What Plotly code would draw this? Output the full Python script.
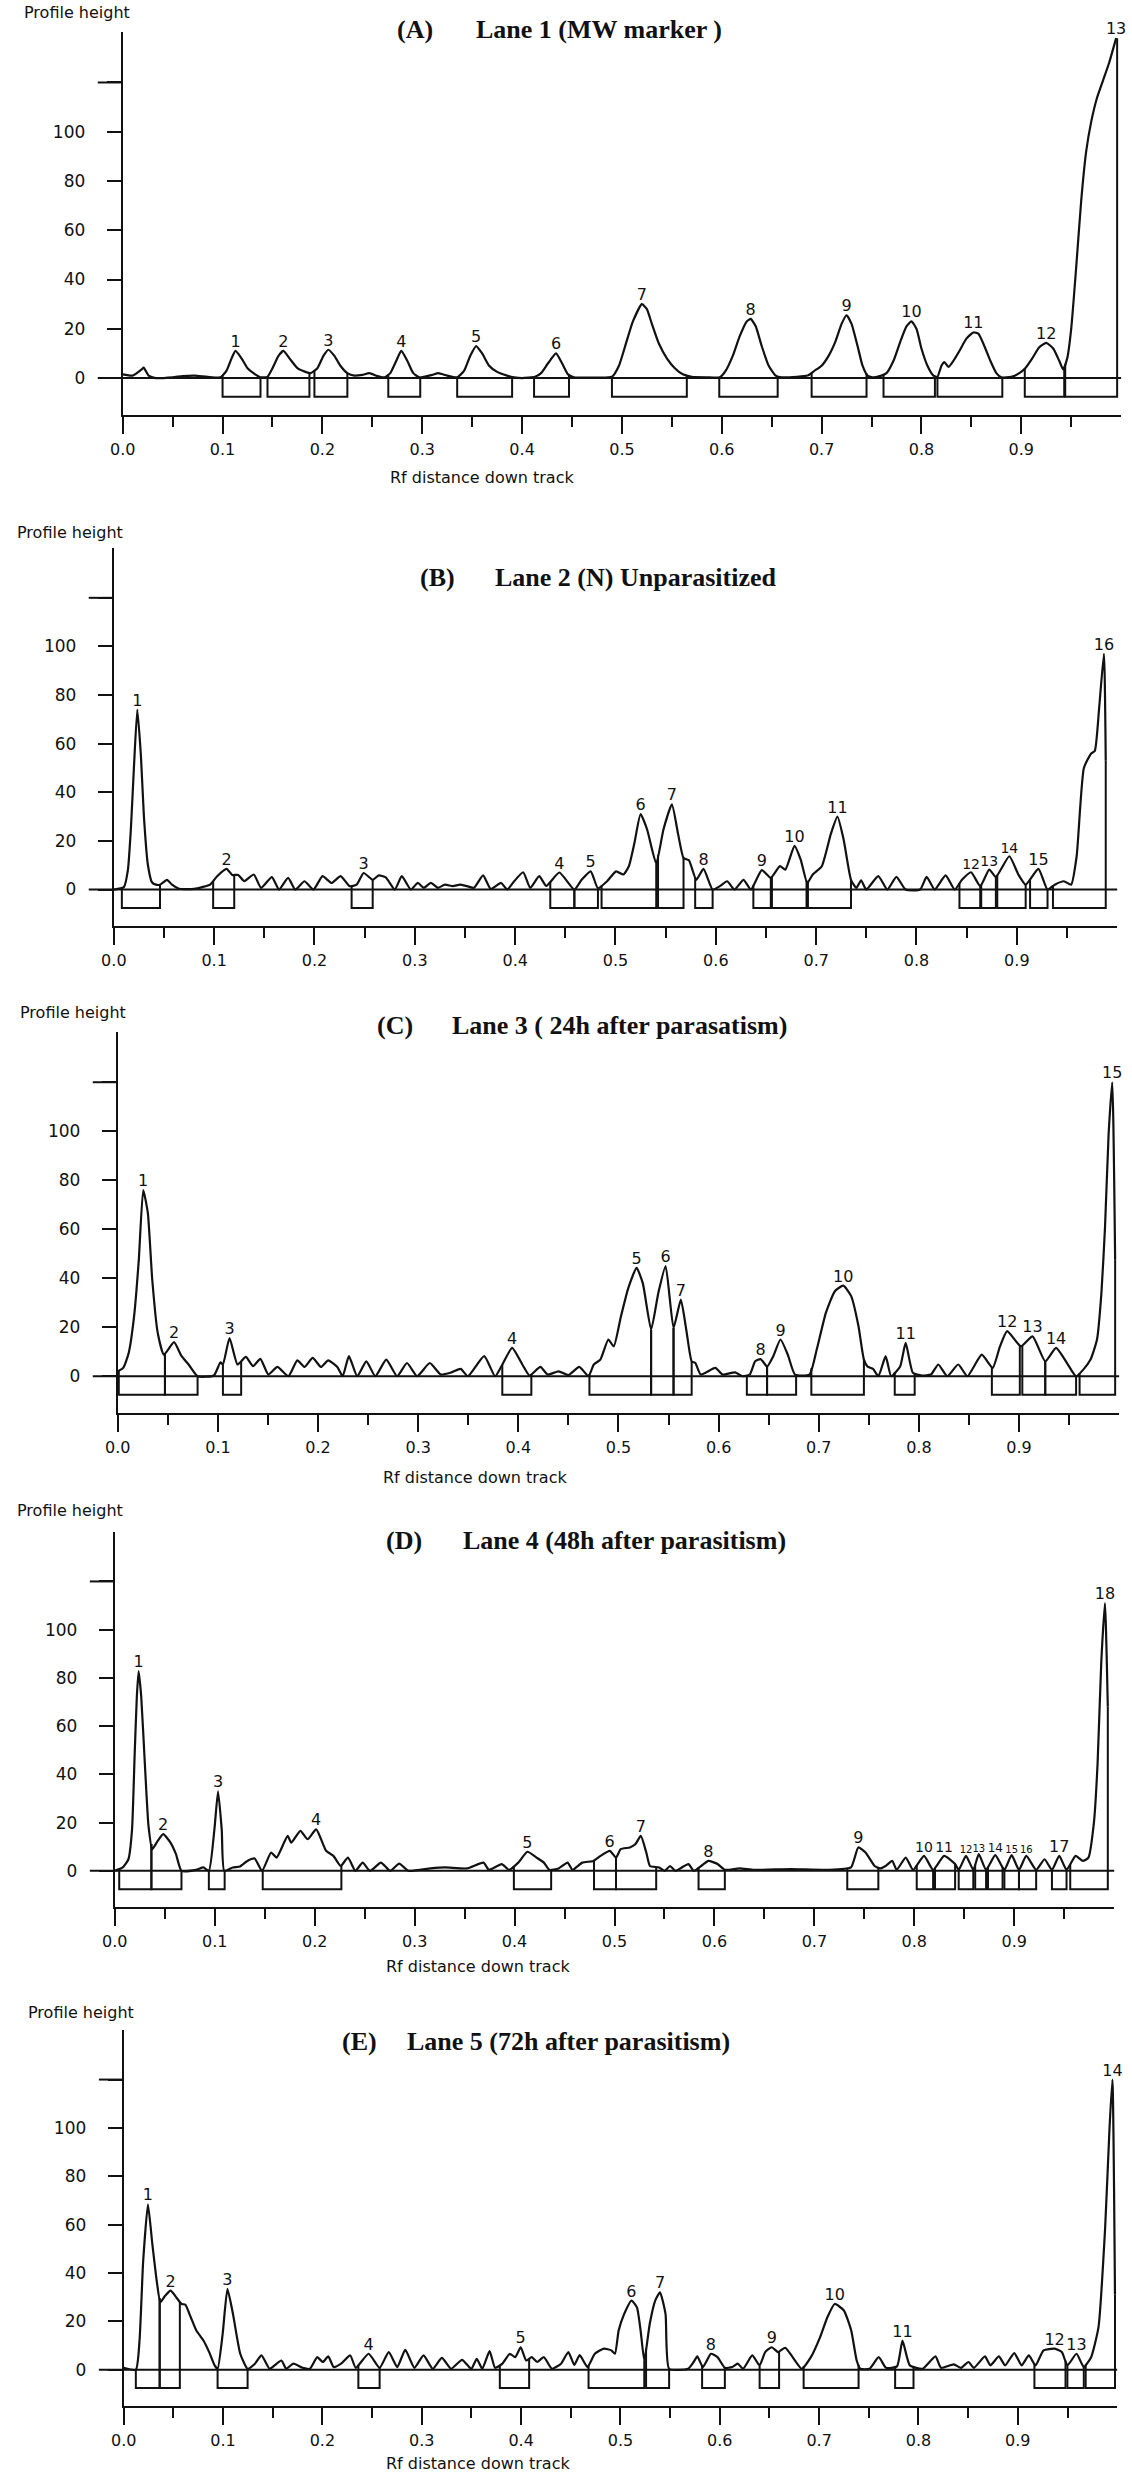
import numpy as np
import plotly.graph_objects as go

# ---------------------------------------------------------------- data
# Lane 1 (MW marker)
lane1_rf = [0.000, 0.010, 0.019, 0.021, 0.026, 0.033, 0.050, 0.060, 0.072, 0.085, 0.098,
            0.104, 0.109, 0.113, 0.119, 0.125, 0.131, 0.138,
            0.145, 0.150, 0.156, 0.161, 0.167, 0.175, 0.183, 0.188,
            0.195, 0.201, 0.206, 0.212, 0.218, 0.225, 0.232, 0.240, 0.247, 0.255, 0.262,
            0.268, 0.274, 0.279, 0.285, 0.291, 0.297,
            0.310, 0.316, 0.325, 0.335,
            0.342, 0.348, 0.354, 0.360, 0.367, 0.375, 0.385, 0.392,
            0.400, 0.413, 0.419, 0.426, 0.434, 0.440, 0.446, 0.452,
            0.470, 0.490, 0.497, 0.504, 0.511, 0.520, 0.525, 0.530, 0.537, 0.545, 0.553, 0.561, 0.570,
            0.585, 0.598, 0.604, 0.611, 0.618, 0.625, 0.629, 0.634, 0.640, 0.647, 0.654, 0.660,
            0.675, 0.686, 0.693, 0.700, 0.707, 0.714, 0.720, 0.725, 0.730, 0.736, 0.741, 0.746, 0.752,
            0.760, 0.765, 0.772, 0.779, 0.785, 0.790, 0.795, 0.800, 0.806, 0.812,
            0.816, 0.820, 0.823, 0.827, 0.832, 0.838, 0.845, 0.852, 0.857, 0.863, 0.869, 0.875, 0.880,
            0.890, 0.898, 0.904, 0.911, 0.918, 0.925, 0.932, 0.938, 0.942,
            0.946, 0.950, 0.955, 0.960, 0.965, 0.970, 0.976, 0.982, 0.988, 0.995]
lane1_height = [1.5, 1, 3.5, 4.2, 1, 0, 0.3, 0.8, 1, 0.5, 0.3,
                3, 8, 11, 8, 4, 2, 0.3,
                0.5, 4, 9, 11, 8, 4, 2.5, 2,
                4, 9, 11.5, 9, 5, 2, 1, 1.3, 2, 0.8, 0.3,
                2, 7, 11, 7, 2, 0.3,
                1.3, 2, 1, 0.3,
                3, 9, 13, 10, 5, 2.5, 1, 0.3,
                0, 0.5, 2, 6, 10, 6, 1.5, 0.3,
                0.2, 0.5, 5, 14, 23, 30, 28, 22, 14, 8, 4, 1.5, 0.5,
                0.3, 0.3, 3, 9, 17, 23, 24, 21, 13, 5, 1, 0.3,
                0.5, 1, 3, 5, 9, 15, 22, 25.5, 22, 13, 5, 1, 0.3,
                1, 2, 7, 15, 21, 23, 20, 12, 5, 1,
                0.5, 5, 6.5, 4.5, 7, 11, 16, 18.5, 18, 13, 7, 2, 0.3,
                0.5, 2, 4, 8, 12.5, 14.3, 12, 7, 3.5,
                8, 20, 45, 72, 92, 104, 114, 121, 128, 138]
lane1_band_start = [0.100, 0.145, 0.192, 0.266, 0.335, 0.412, 0.490, 0.5975, 0.690, 0.762, 0.816, 0.9035, 0.944]
lane1_band_end = [0.138, 0.187, 0.225, 0.298, 0.390, 0.447, 0.565, 0.656, 0.745, 0.8135, 0.881, 0.943, 0.996]

# Lane 2 (N) Unparasitized
lane2_rf = [0.000, 0.010, 0.014, 0.017, 0.020, 0.0234, 0.027, 0.030, 0.034, 0.038, 0.042, 0.046,
            0.053, 0.058, 0.065, 0.080, 0.088, 0.096, 0.103, 0.1124, 0.118, 0.124, 0.130,
            0.1395, 0.1467, 0.1575, 0.1647, 0.1737, 0.1809, 0.190, 0.199, 0.208, 0.217, 0.226,
            0.235, 0.242, 0.249, 0.258, 0.264, 0.271, 0.280, 0.287, 0.296, 0.303, 0.309, 0.316,
            0.323, 0.330, 0.338, 0.345, 0.352, 0.359, 0.368, 0.3755, 0.386, 0.392, 0.399, 0.408,
            0.415, 0.424, 0.431, 0.444, 0.459, 0.4662, 0.4753, 0.4825, 0.4916, 0.5006, 0.5079,
            0.5133, 0.5188, 0.5250, 0.5315, 0.5406, 0.5478, 0.5562, 0.5623, 0.5678, 0.5732,
            0.5805, 0.5877, 0.5968, 0.6040, 0.6113, 0.6186, 0.6276, 0.6349, 0.6458, 0.6548,
            0.6639, 0.6693, 0.6784, 0.6846, 0.6911, 0.6966, 0.7056, 0.7147, 0.7212, 0.7274,
            0.7347, 0.7401, 0.7448, 0.7499, 0.7619, 0.7709, 0.7800, 0.7891, 0.8036, 0.8101,
            0.8181, 0.8290, 0.8381, 0.8453, 0.8544, 0.8635, 0.8725, 0.8791, 0.8925, 0.9015,
            0.9088, 0.9215, 0.9306, 0.9378, 0.9469, 0.9541, 0.9596, 0.9668, 0.9741, 0.9777,
            0.9821, 0.9868, 0.9886]
lane2_height = [0, 1, 8, 25, 50, 74, 55, 30, 10, 3, 2, 2,
                4, 2, 0.3, 0.3, 1, 2, 5.5, 8.5, 6, 6, 3.4,
                6.2, 0.7, 5.1, 0, 4.8, 0, 3.4, 0, 5.5, 2.7, 5.5,
                1.4, 2, 6.8, 4, 5.8, 5, 0, 5.5, 0, 2.7, 0.7, 2.7,
                0.7, 2, 1.4, 2, 1.4, 0.7, 5.8, 0.3, 2.7, 0, 3.4, 7.1,
                0.7, 5.5, 1.5, 7, 0, 4, 7.5, 0.5, 3.4, 7.5, 6.2,
                9.6, 19, 31, 24.7, 10.7, 24.7, 35, 23, 13, 12,
                4, 8.5, 0, 1.4, 3.4, 0, 4, 0, 8, 4.8,
                9.6, 8.2, 18, 12.3, 2.7, 6.2, 9.6, 23, 30, 20.5,
                4, 0.7, 3.8, 0, 5.5, 0, 5.2, 0, 0, 5.2,
                0, 5.8, 0, 4, 7.1, 1.4, 8.2, 5.2, 13.7, 6.2,
                2, 8.5, 0, 2, 3.4, 2, 13.7, 50, 56, 57,
                75, 97, 53]
lane2_band_start = [0.008, 0.099, 0.237, 0.435, 0.459, 0.4861, 0.5424, 0.5794, 0.6374, 0.6559, 0.6918,
                    0.8428, 0.8645, 0.8805, 0.9132, 0.936]
lane2_band_end = [0.046, 0.120, 0.258, 0.459, 0.4825, 0.5406, 0.5678, 0.5968, 0.6548, 0.6904, 0.7347,
                  0.8635, 0.8791, 0.9088, 0.9306, 0.9886]

# Lane 3 (24h after parasitism)
lane3_rf = [0.000, 0.0054, 0.0109, 0.0163, 0.021, 0.0254, 0.030, 0.0344, 0.0399, 0.046, 0.0562,
            0.0634, 0.0707, 0.0797, 0.096, 0.1025, 0.105, 0.1116, 0.1196, 0.1279, 0.1351, 0.1424,
            0.1504, 0.1594, 0.1703, 0.1793, 0.1866, 0.1946, 0.2029, 0.2101, 0.2192, 0.2246, 0.2308,
            0.2391, 0.2482, 0.2572, 0.2681, 0.279, 0.2888, 0.2989, 0.3116, 0.3225, 0.3333, 0.3424,
            0.3496, 0.3659, 0.3768, 0.3841, 0.3938, 0.4040, 0.4112, 0.422, 0.4293, 0.4402, 0.450,
            0.4609, 0.470, 0.4754, 0.4819, 0.4899, 0.4953, 0.5025, 0.5098, 0.5181, 0.5243, 0.5326,
            0.5398, 0.5471, 0.555, 0.5623, 0.5677, 0.5731, 0.5768, 0.5822, 0.5967, 0.6039, 0.6166,
            0.6238, 0.6311, 0.6365, 0.642, 0.6484, 0.6546, 0.6618, 0.6691, 0.6763, 0.6908, 0.698,
            0.7071, 0.7161, 0.7245, 0.7324, 0.7397, 0.7451, 0.7487, 0.7542, 0.7596, 0.7668, 0.7723,
            0.7813, 0.7868, 0.794, 0.803, 0.8121, 0.8194, 0.8284, 0.8393, 0.8484, 0.8628, 0.8737,
            0.881, 0.8882, 0.9019, 0.9135, 0.9262, 0.937, 0.9479, 0.957, 0.9642, 0.9714, 0.9779,
            0.9823, 0.9859, 0.9895, 0.9931, 0.996]
lane3_height = [2, 3.4, 9.5, 24.5, 47.6, 76, 66.7, 39.5, 17.7, 8.8, 13.9,
                8.4, 4.8, 0, 0.3, 5.7, 4.8, 15.6, 4.8, 7.9, 4.1, 7.1,
                0.7, 3.8, 0, 6.5, 3.8, 7.5, 3.8, 6.5, 3.8, 0, 8.2,
                0, 6.1, 0, 6.8, 0, 5.4, 0, 5.4, 0.7, 1.6, 3,
                0, 8.2, 0, 4.8, 11.6, 4.8, 0.3, 3.8, 0.7, 2, 0.5,
                3.8, 0, 4.8, 6.8, 15, 12.2, 24.5, 36, 44.2, 38, 19,
                34, 45, 19.7, 31.3, 19, 6.1, 5.4, 0.7, 3.4, 0.7, 1.6,
                0, 0.7, 6.1, 7, 4, 8.2, 15, 8.8, 0.7, 0.7, 10.9,
                25.9, 34.7, 37, 32.7, 20.4, 6.8, 4, 3, 0, 8.2, 0,
                4, 13.6, 1.4, 0.3, 0.7, 4.8, 0, 4.8, 0, 8.8, 3.4,
                12.2, 18.4, 12.2, 16.3, 6.1, 11.6, 5.4, 0, 2.7, 6.8, 15,
                34, 61, 99, 120, 47.6]
lane3_band_start = [0.001, 0.0471, 0.105, 0.384, 0.471, 0.5326, 0.555, 0.6282, 0.6484, 0.6926, 0.7759,
                    0.8729, 0.9033, 0.9262, 0.9605]
lane3_band_end = [0.0471, 0.0797, 0.1232, 0.413, 0.5326, 0.555, 0.5731, 0.6484, 0.6774, 0.7451, 0.7958,
                  0.9008, 0.9262, 0.957, 0.996]

# Lane 4 (48h after parasitism)
lane4_rf = [0.000, 0.008, 0.0136, 0.0172, 0.0198, 0.022, 0.0238, 0.0264, 0.030, 0.0337, 0.0374,
            0.0429, 0.0484, 0.0557, 0.0612, 0.0667, 0.0813, 0.0886, 0.0941, 0.0996, 0.1033, 0.107,
            0.1095, 0.118, 0.1253, 0.1326, 0.1399, 0.1473, 0.1564, 0.1619, 0.1729, 0.1766, 0.1857,
            0.193, 0.2015, 0.2114, 0.2187, 0.226, 0.2333, 0.2407, 0.248, 0.2553, 0.2663, 0.2755,
            0.2846, 0.2938, 0.3158, 0.3304, 0.3524, 0.3689, 0.3744, 0.3872, 0.3945, 0.4037, 0.4128,
            0.422, 0.4293, 0.4348, 0.4440, 0.4531, 0.458, 0.4678, 0.4788, 0.4861, 0.4952, 0.5015,
            0.5062, 0.5154, 0.5208, 0.5263, 0.5318, 0.5355, 0.5446, 0.5501, 0.5556, 0.561, 0.5739,
            0.5793, 0.5867, 0.594, 0.6031, 0.6104, 0.625, 0.6397, 0.6762, 0.7128, 0.7366, 0.7439,
            0.7512, 0.7603, 0.7658, 0.7713, 0.7779, 0.7823, 0.7914, 0.7987, 0.8097, 0.8188, 0.8298,
            0.8408, 0.8444, 0.8517, 0.859, 0.8645, 0.8718, 0.881, 0.8901, 0.8974, 0.9047, 0.912,
            0.9219, 0.9303, 0.9377, 0.945, 0.9523, 0.9614, 0.9687, 0.9742, 0.9797, 0.9834, 0.987,
            0.9907, 0.9936]
lane4_height = [0, 1.4, 4.8, 17, 47.6, 72, 82.8, 72.4, 44.8, 18.6, 9,
                12.4, 15.2, 11.7, 6.9, 0, 0.4, 1.4, 0, 17, 33, 17,
                0, 1.4, 1.8, 4.1, 5.1, 0, 7.6, 5.5, 14.5, 11.7, 16.6,
                13.1, 17.2, 8.3, 6.2, 2, 5.5, 0, 3.4, 0, 3.4, 0,
                3, 0, 1, 1.4, 1, 3.4, 0.4, 2.8, 0.4, 3.4, 7.9,
                5.5, 3.4, 0.4, 1, 3.4, 0.4, 3.4, 4.1, 6.2, 8.3, 5.5,
                9, 9.7, 11, 14.5, 7.6, 2, 1.4, 0, 2, 0, 2.8,
                0, 2, 4.1, 2.8, 0.4, 1, 0.4, 0.7, 0.4, 1.4, 9.7,
                7.6, 2, 1, 2, 4.1, 0.4, 5.5, 0.4, 6.2, 0.4, 6.2,
                2.8, 0.4, 6.2, 0.4, 6.9, 0.4, 6.5, 0.4, 6.5, 0.4, 6.2,
                0.4, 4.8, 0.4, 6.2, 0.4, 6.2, 4.1, 5.5, 20, 44.8, 86,
                111, 68]
lane4_band_start = [0.0044, 0.0366, 0.0941, 0.148, 0.3993, 0.4795, 0.5015, 0.5841, 0.7329, 0.8024, 0.8207,
                    0.8444, 0.8609, 0.8737, 0.8901, 0.9047, 0.9377, 0.956]
lane4_band_end = [0.0366, 0.0667, 0.1099, 0.2267, 0.4366, 0.5015, 0.5417, 0.6104, 0.764, 0.8188, 0.8408,
                  0.859, 0.8718, 0.8883, 0.9047, 0.9219, 0.9523, 0.9936]

# Lane 5 (72h after parasitism)
lane5_rf = [0.000, 0.0122, 0.0159, 0.0196, 0.0244, 0.0288, 0.0332, 0.0369, 0.0417, 0.0472, 0.0528,
            0.0583, 0.062, 0.0675, 0.0731, 0.0804, 0.086, 0.0915, 0.0945, 0.0996, 0.1044, 0.110,
            0.1173, 0.1247, 0.1321, 0.1387, 0.1469, 0.1587, 0.1635, 0.1708, 0.1801, 0.1875, 0.1948,
            0.2004, 0.2059, 0.2114, 0.2188, 0.228, 0.2336, 0.2465, 0.2576, 0.2668, 0.2753, 0.2834,
            0.2926, 0.3018, 0.3111, 0.3203, 0.3295, 0.3406, 0.3498, 0.3554, 0.3609, 0.3683, 0.3738,
            0.3812, 0.3886, 0.3941, 0.3996, 0.4052, 0.4107, 0.4162, 0.4229, 0.431, 0.4402, 0.4476,
            0.4535, 0.4590, 0.4668, 0.4742, 0.4834, 0.4908, 0.4945, 0.4982, 0.5037, 0.5111, 0.5166,
            0.5203, 0.524, 0.5295, 0.535, 0.5398, 0.5454, 0.549, 0.5682, 0.5737, 0.5774, 0.583,
            0.5911, 0.5977, 0.6051, 0.6125, 0.618, 0.6235, 0.6327, 0.6401, 0.6457, 0.6523, 0.6586,
            0.6659, 0.6733, 0.6825, 0.6917, 0.701, 0.7083, 0.7157, 0.7249, 0.7323, 0.7378, 0.7415,
            0.7507, 0.760, 0.7673, 0.7784, 0.7839, 0.7913, 0.8042, 0.8171, 0.8226, 0.8355, 0.8429,
            0.8503, 0.8558, 0.8669, 0.8724, 0.8809, 0.8872, 0.8964, 0.9038, 0.9111, 0.9178, 0.9259,
            0.937, 0.9443, 0.9499, 0.9591, 0.9664, 0.9738, 0.9812, 0.9879, 0.9923, 0.9952, 0.9978]
lane5_height = [0.8, 0, 12, 45, 68.4, 52, 36.8, 27.9, 30.6, 32.7, 30,
                27.2, 26.9, 21.7, 16.2, 12, 7.3, 1.8, 0.4, 14.8, 33.4, 23,
                6.6, 0.4, 2.5, 5.9, 0.4, 3.8, 0.4, 2.5, 0.8, 0.4, 5.2,
                3.2, 5.5, 1.1, 2.5, 5.9, 0.8, 6.6, 0.8, 7.3, 1.1, 8.2,
                0.8, 5.9, 0.4, 4.9, 0.4, 4.1, 0.4, 4.5, 0.4, 7.7, 0.8,
                2.5, 6.6, 5.2, 9.3, 3.8, 5.2, 3.2, 5.2, 0.4, 2.5, 7.3,
                2, 6, 1.1, 6.6, 8.7, 8, 6.6, 16.2, 23, 28.6, 25.8,
                16.2, 3.8, 19, 28.6, 32, 23, 0.4, 0.4, 3.2, 5.5, 1.1,
                6.6, 5.2, 0.8, 1.1, 2.5, 0.4, 5.9, 1.8, 7.3, 9.3, 7.3,
                9.1, 5.2, 0.4, 5.2, 13.5, 21.7, 27.2, 24.5, 16.2, 3.8, 0.4,
                0.4, 5.2, 0.8, 1.4, 12, 1.8, 0.4, 5.5, 0.8, 2.2, 0.8,
                3.2, 0.8, 5.5, 1.8, 5.5, 1.8, 6.9, 1.8, 5.9, 1.8, 8,
                8.7, 7.3, 1.8, 6.6, 1.1, 5.2, 17.6, 58.8, 100, 120, 31]
lane5_band_start = [0.0122, 0.0362, 0.0945, 0.2362, 0.3786, 0.4679, 0.5258, 0.5822, 0.6401, 0.6844, 0.7765,
                    0.9167, 0.9499, 0.9683]
lane5_band_end = [0.0362, 0.0565, 0.1247, 0.2576, 0.4081, 0.524, 0.549, 0.6051, 0.6597, 0.7397, 0.795,
                  0.948, 0.9664, 0.9978]

panel_tags = ["(A)", "(B)", "(C)", "(D)", "(E)"]
panel_titles = ["Lane 1 (MW marker )", "Lane 2 (N) Unparasitized", "Lane 3 ( 24h after parasatism)",
                "Lane 4 (48h after parasitism)", "Lane 5 (72h after parasitism)"]
x_tick_values = [0.0, 0.1, 0.2, 0.3, 0.4, 0.5, 0.6, 0.7, 0.8, 0.9]
x_tick_labels = ["0.0", "0.1", "0.2", "0.3", "0.4", "0.5", "0.6", "0.7", "0.8", "0.9"]
x_minor_values = [0.05, 0.15, 0.25, 0.35, 0.45, 0.55, 0.65, 0.75, 0.85, 0.95]
y_tick_values = [0, 20, 40, 60, 80, 100, 120]
y_tick_labels = ["0", "20", "40", "60", "80", "100", ""]

lanes = [
    (lane1_rf, lane1_height, lane1_band_start, lane1_band_end),
    (lane2_rf, lane2_height, lane2_band_start, lane2_band_end),
    (lane3_rf, lane3_height, lane3_band_start, lane3_band_end),
    (lane4_rf, lane4_height, lane4_band_start, lane4_band_end),
    (lane5_rf, lane5_height, lane5_band_start, lane5_band_end),
]

# ---------------------------------------------------------------- layout geometry (page pixels)
FW, FH = 1132, 2480
INK = "#111111"
SANS = "DejaVu Sans"
SERIF = "Liberation Serif"
Y_MIN, Y_MAX = -15, 140.5
BOX_Y = -7.6


def px_x(p):
    return p / FW


def px_y(p):
    return 1 - p / FH


geom = [
    dict(x0=111, k=1010, top=32, bottom=415, ph=(9, 12), t1=(386, 30), t2=(466, 30), rf=(474, 477)),
    dict(x0=102, k=1015, top=548, bottom=926, ph=(2, 533), t1=(410, 577), t2=(486, 577), rf=None),
    dict(x0=106, k=1013, top=1032, bottom=1413, ph=(5, 1012), t1=(366, 1025), t2=(442, 1025), rf=(467, 1477)),
    dict(x0=103, k=1011, top=1532, bottom=1907, ph=(2, 1510), t1=(375, 1540), t2=(453, 1540), rf=(470, 1966)),
    dict(x0=112, k=1005, top=2030, bottom=2406, ph=(13, 2012), t1=(331, 2041), t2=(397, 2041), rf=(470, 2463)),
]

fig = go.Figure()
layout = {}
shapes = []
annotations = []

for i, ((rf, hgt, bs, be), g) in enumerate(zip(lanes, geom)):
    n = i + 1
    xa = "x" if n == 1 else f"x{n}"
    ya = "y" if n == 1 else f"y{n}"
    rfa = np.array(rf, dtype=float)
    ha = np.array(hgt, dtype=float)

    # profile curve
    fig.add_trace(go.Scatter(x=rf, y=hgt, mode="lines", xaxis=xa, yaxis=ya,
                             line=dict(color=INK, width=2.2, shape="spline", smoothing=0.5),
                             hoverinfo="skip", showlegend=False))

    # band boxes (edges rise to the profile)
    bx, by = [], []
    for s, e in zip(bs, be):
        bx += [s, s, e, e, None]
        by += [float(np.interp(s, rfa, ha)), BOX_Y, BOX_Y, float(np.interp(e, rfa, ha)), None]
    fig.add_trace(go.Scatter(x=bx, y=by, mode="lines", xaxis=xa, yaxis=ya,
                             line=dict(color=INK, width=2), hoverinfo="skip", showlegend=False))

    # band numbers above each band's peak
    lx, ly = [], []
    for s, e in zip(bs, be):
        m = (rfa >= s) & (rfa <= e)
        j = int(np.argmax(np.where(m, ha, -1e9)))
        lx.append(float(rfa[j]))
        ly.append(float(ha[j]))
    texts = [str(k + 1) for k in range(len(bs))]
    lpx = np.array(lx) * g["k"]
    sizes = []
    for j in range(len(lx)):
        chosen = 10
        for s_try in (16, 14, 12, 10):
            ok = True
            for q in range(len(lx)):
                if q == j:
                    continue
                need = 0.64 * s_try * (len(texts[j]) + len(texts[q])) / 2
                if abs(lpx[q] - lpx[j]) < need:
                    ok = False
                    break
            if ok:
                chosen = s_try
                break
        sizes.append(chosen)
    fig.add_trace(go.Scatter(x=lx, y=ly, mode="text", xaxis=xa, yaxis=ya,
                             text=texts, textposition="top center",
                             textfont=dict(family=SANS, size=sizes, color=INK),
                             cliponaxis=False, hoverinfo="skip", showlegend=False))

    xkey = "xaxis" if n == 1 else f"xaxis{n}"
    ykey = "yaxis" if n == 1 else f"yaxis{n}"
    layout[xkey] = dict(domain=[px_x(g["x0"]), px_x(g["x0"] + g["k"])], range=[0, 1.0], anchor=ya,
                        showline=True, linecolor=INK, linewidth=2, mirror=False,
                        ticks="outside", tickvals=x_tick_values, ticktext=x_tick_labels,
                        ticklen=17, tickwidth=2, tickcolor=INK, ticklabelstandoff=2,
                        tickfont=dict(family=SANS, size=16, color=INK),
                        minor=dict(tickmode="array", tickvals=x_minor_values, ticks="outside",
                                   ticklen=10, tickwidth=2, tickcolor=INK, showgrid=False),
                        showgrid=False, zeroline=False, fixedrange=True)
    layout[ykey] = dict(domain=[px_y(g["bottom"]), px_y(g["top"])], range=[Y_MIN, Y_MAX], anchor=xa,
                        showline=True, linecolor=INK, linewidth=2,
                        ticks="outside", tickvals=y_tick_values, ticktext=y_tick_labels,
                        ticklen=14, tickwidth=2, tickcolor=INK, ticklabelstandoff=18,
                        tickfont=dict(family=SANS, size=17, color=INK),
                        showgrid=False, zeroline=False, fixedrange=True)

    # baseline (extends left of the axis) and the long 120 tick
    shapes.append(dict(type="line", xref=f"{xa} domain", yref=ya, x0=-0.025, x1=1.0, y0=0, y1=0,
                       line=dict(color=INK, width=2)))
    shapes.append(dict(type="line", xref=f"{xa} domain", yref=ya, x0=-0.025, x1=0, y0=120, y1=120,
                       line=dict(color=INK, width=2)))

    annotations.append(dict(text="Profile height", xref="paper", yref="paper",
                            x=px_x(g["ph"][0]), y=px_y(g["ph"][1]), xanchor="left", yanchor="middle",
                            showarrow=False, font=dict(family=SANS, size=16, color=INK)))
    annotations.append(dict(text=f"<b>{panel_tags[i]}</b>", xref="paper", yref="paper",
                            x=px_x(g["t1"][0]), y=px_y(g["t1"][1]), xanchor="left", yanchor="middle",
                            showarrow=False, font=dict(family=SERIF, size=26, color=INK)))
    annotations.append(dict(text=f"<b>{panel_titles[i]}</b>", xref="paper", yref="paper",
                            x=px_x(g["t2"][0]), y=px_y(g["t2"][1]), xanchor="left", yanchor="middle",
                            showarrow=False, font=dict(family=SERIF, size=26, color=INK)))
    if g["rf"] is not None:
        annotations.append(dict(text="Rf distance down track", xref="paper", yref="paper",
                                x=px_x(g["rf"][0]), y=px_y(g["rf"][1]), xanchor="center", yanchor="middle",
                                showarrow=False, font=dict(family=SANS, size=16, color=INK)))

fig.update_layout(width=FW, height=FH, margin=dict(l=0, r=0, t=0, b=0),
                  paper_bgcolor="white", plot_bgcolor="white", showlegend=False,
                  shapes=shapes, annotations=annotations, **layout)

# remove the default page margin so the figure fills the 1132x2480 window exactly
fig.write_html("out.html",
               config={"displayModeBar": False, "staticPlot": True},
               post_script="document.body.style.margin='0px';document.body.style.overflow='hidden';")
